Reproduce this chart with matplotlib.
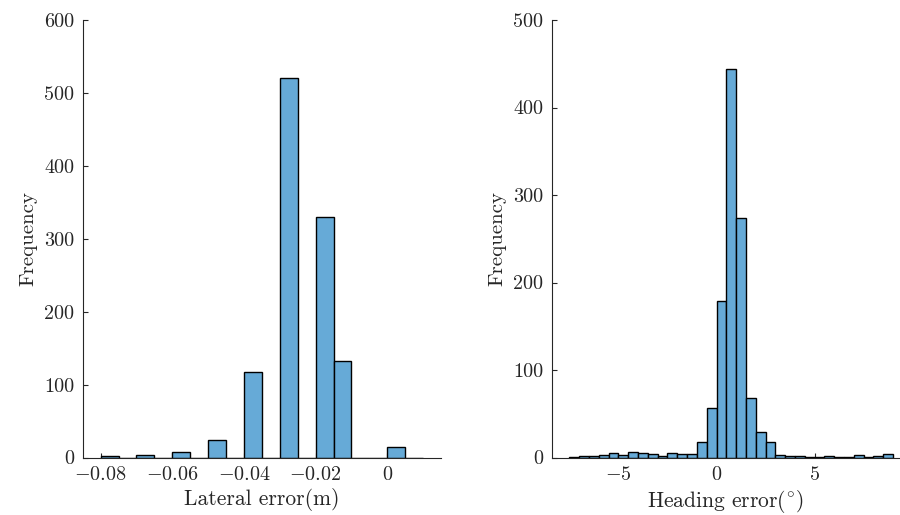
import matplotlib
matplotlib.use("Agg")
import matplotlib.pyplot as plt
import numpy as np

plt.rcParams['font.family'] = 'serif'
plt.rcParams['font.serif'] = ['cmr10', 'DejaVu Serif']
plt.rcParams['mathtext.fontset'] = 'cm'
plt.rcParams['axes.formatter.use_mathtext'] = True

# Lateral error histogram (bin edges in m, counts)
lat_edges = [-0.080, -0.075, -0.070, -0.065, -0.060, -0.055, -0.050, -0.045,
             -0.040, -0.035, -0.030, -0.025, -0.020, -0.015, -0.010, -0.005,
             0.000, 0.005, 0.010]
lat_counts = [2, 0, 4, 0, 8, 0, 24, 0, 117, 0, 520, 0, 330, 132, 0, 0, 15, 0]
lat_xticks = [-0.08, -0.06, -0.04, -0.02, 0]
lat_xticklabels = ['$-0.08$', '$-0.06$', '$-0.04$', '$-0.02$', '$0$']
lat_yticks = [0, 100, 200, 300, 400, 500, 600]

# Heading error histogram (bin edges in degrees, counts)
head_edges = [-7.5, -7.0, -6.5, -6.0, -5.5, -5.0, -4.5, -4.0, -3.5, -3.0,
              -2.5, -2.0, -1.5, -1.0, -0.5, 0.0, 0.5, 1.0, 1.5, 2.0,
              2.5, 3.0, 3.5, 4.0, 4.5, 5.0, 5.5, 6.0, 6.5, 7.0,
              7.5, 8.0, 8.5, 9.0]
head_counts = [1, 2, 2, 3, 5, 3, 6, 5, 4, 2,
               5, 4, 4, 18, 57, 179, 444, 274, 68, 29,
               18, 3, 2, 2, 1, 1, 2, 1, 1, 3,
               1, 2, 4]
head_xticks = [-5, 0, 5]
head_xticklabels = ['$-5$', '$0$', '$5$']
head_yticks = [0, 100, 200, 300, 400, 500]

face = '#66AAD7'
axcol = '#262626'

fig = plt.figure(figsize=(9.0, 5.15), dpi=100)
ax1 = fig.add_axes([82.7 / 900, 57.5 / 515, (441 - 82.7) / 900, 437.5 / 515])
ax2 = fig.add_axes([551.7 / 900, 57.5 / 515, (899 - 551.7) / 900, 437.5 / 515])


def draw(ax, edges, counts, xlim, ylim, xticks, xlabels, yticks, xlabel):
    e = np.asarray(edges)
    ax.bar(e[:-1], counts, width=np.diff(e), align='edge', color=face,
           edgecolor='black', linewidth=1.0, zorder=2)
    ax.set_xlim(*xlim)
    ax.set_ylim(*ylim)
    ax.set_xticks(xticks)
    ax.set_xticklabels(xlabels)
    ax.set_yticks(yticks)
    ax.set_yticklabels([str(v) for v in yticks])
    for s in ['top', 'right']:
        ax.spines[s].set_visible(False)
    for s in ['left', 'bottom']:
        ax.spines[s].set_color(axcol)
        ax.spines[s].set_linewidth(0.8)
    ax.tick_params(direction='in', length=3.8, width=0.8, color=axcol,
                   labelcolor=axcol, labelsize=14.5)
    ax.tick_params(axis='x', pad=6)
    ax.tick_params(axis='y', pad=6)
    ax.set_xlabel(xlabel, fontsize=15.5, color=axcol, labelpad=3)
    ax.set_ylabel('Frequency', fontsize=15.0, color=axcol, labelpad=5)


draw(ax1, lat_edges, lat_counts, (-0.085, 0.015), (0, 600), lat_xticks,
     lat_xticklabels, lat_yticks, 'Lateral error(m)')
draw(ax2, head_edges, head_counts, (-8.4, 9.3), (0, 500), head_xticks,
     head_xticklabels, head_yticks, r'Heading error($^{\circ}$)')

fig.savefig('out.png', dpi=100)
